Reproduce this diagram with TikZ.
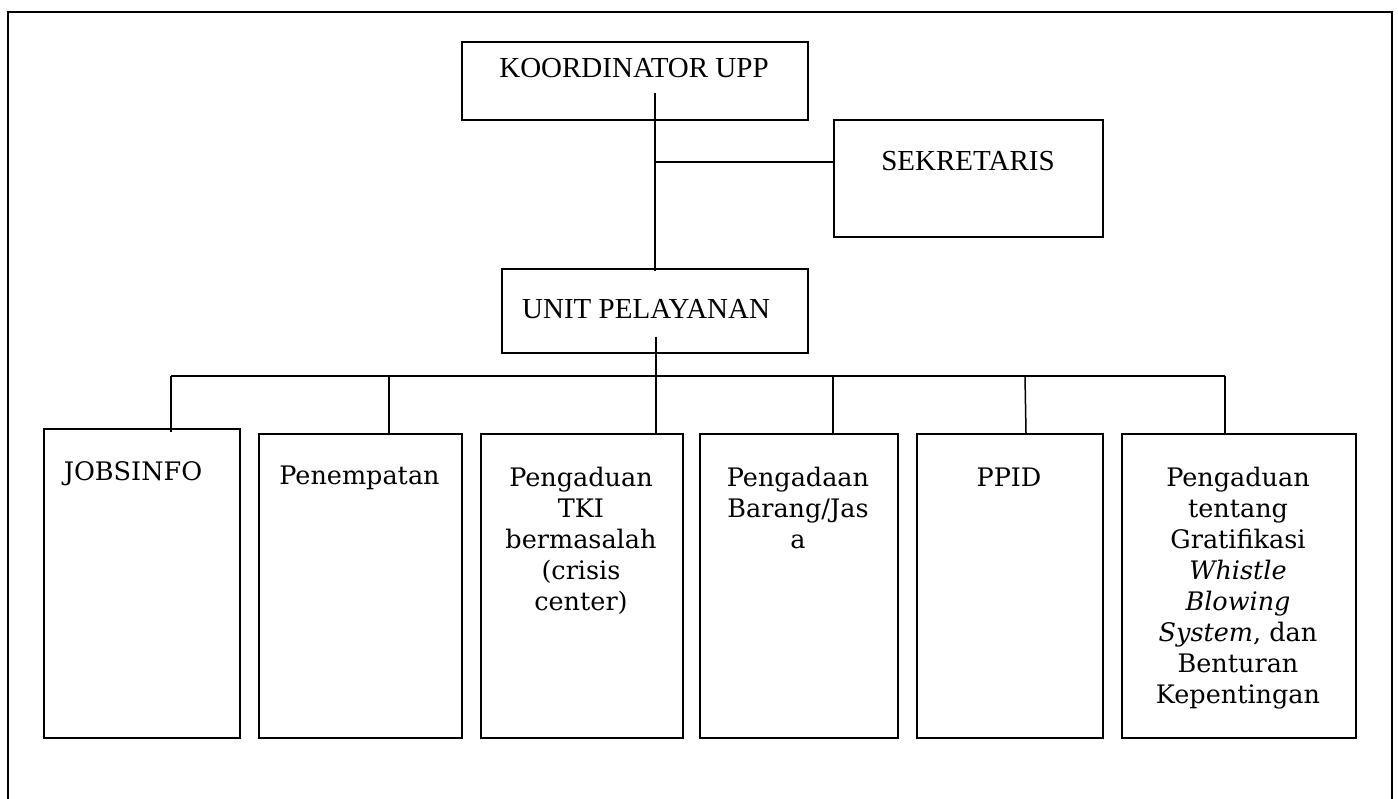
\documentclass[tikz,border=0pt]{standalone}
\usepackage{fontspec}
\setmainfont{DejaVu Serif}
\newfontfamily\timesf{Liberation Serif}
\begin{document}
\begin{tikzpicture}[x=1pt,y=-1pt,
  frame/.style={line width=2.2pt},
  box/.style={draw,line width=1.7pt,inner sep=0pt,anchor=north west},
  conn/.style={line width=1.5pt},
  toptxt/.style={font=\timesf\fontsize{29}{34}\selectfont,inner sep=0pt,anchor=base},
  lowtxt/.style={font=\fontsize{25.5}{31}\selectfont,align=center,inner sep=0pt,anchor=base}]
\useasboundingbox (0,0) rectangle (1398,799);
% outer frame (open at the bottom)
\draw[frame] (8,799) -- (8,12) -- (1392,12) -- (1392,799);

% top boxes
\node[box,minimum width=346pt,minimum height=78pt] (koord) at (461,41) {};
\node[toptxt] (koordt) at (634,78) {KOORDINATOR UPP};
\node[box,minimum width=269pt,minimum height=117pt] (sek) at (833,119) {};
\node[toptxt] (sekt) at (968,171) {SEKRETARIS};
\node[box,minimum width=306pt,minimum height=84pt] (unit) at (501,268) {};
\node[toptxt,anchor=base west] (unitt) at (522,319) {UNIT PELAYANAN};

% lower boxes
\node[box,minimum width=196pt,minimum height=309pt] (job) at (43,428) {};
\node[box,minimum width=203pt,minimum height=304pt] (pen) at (258,433) {};
\node[box,minimum width=202pt,minimum height=304pt] (tki) at (480,433) {};
\node[box,minimum width=198pt,minimum height=304pt] (bar) at (699,433) {};
\node[box,minimum width=186pt,minimum height=304pt] (ppid) at (916,433) {};
\node[box,minimum width=234pt,minimum height=304pt] (grat) at (1121,433) {};

% (base anchor = baseline of the last line)
\node[lowtxt] (jobt) at (133,480) {JOBSINFO};
\node[lowtxt] (pent) at (359.5,485) {Penempatan};
\node[lowtxt] (tkit) at (581,610) {Pengaduan\\TKI\\bermasalah\\(crisis\\center)};
\node[lowtxt] (bart) at (798,548) {Pengadaan\\Barang/Jas\\a};
\node[lowtxt] (ppidt) at (1009,486) {PPID};
\node[lowtxt] (gratt) at (1238,703) {Pengaduan\\tentang\\Gratifikasi\\\textit{Whistle}\\\textit{Blowing}\\\textit{System}, dan\\Benturan\\Kepentingan};

% connector coordinates
\coordinate (k1) at (655,93);
\coordinate (k2) at (655,271);
\coordinate (js) at (655,162);
\coordinate (u1) at (656,337);
\coordinate (bu) at (656,376);
\coordinate (bl) at (171,376);
\coordinate (br) at (1225,376);
\coordinate (d2) at (389,376);
\coordinate (d4) at (833,376);
\coordinate (d5) at (1025,376);
\coordinate (d5e) at (1026,433);

% connectors
\draw[conn] (k1) -- (k2);
\draw[conn] (js) -- (js -| sek.west);
\draw[conn] (u1) -- (bu);
\draw[conn] (bl) -- (br);
\draw[conn] (bl) -- ([yshift=-4pt]bl |- job.north);
\draw[conn] (d2) -- (d2 |- pen.north);
\draw[conn] (bu) -- (bu |- tki.north);
\draw[conn] (d4) -- (d4 |- bar.north);
\draw[conn] (d5) -- (d5e);
\draw[conn] (br) -- (br |- grat.north);
\end{tikzpicture}
\end{document}
